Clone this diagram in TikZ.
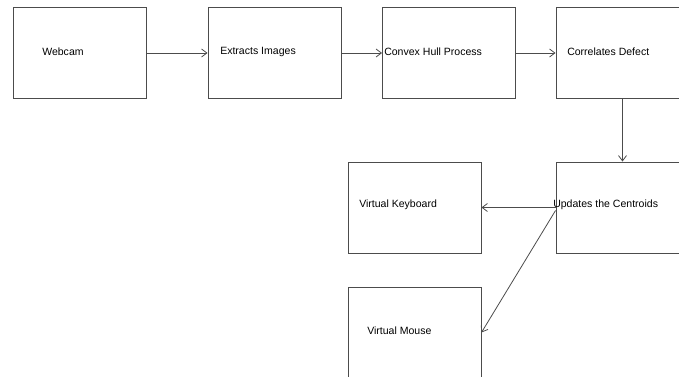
\documentclass[tikz,border=0pt]{standalone}
\usepackage{fontspec}
\setmainfont{Liberation Sans}
\usetikzlibrary{arrows.meta, positioning, calc}

\begin{document}
\begin{tikzpicture}[x=0.75pt, y=-0.75pt,
      >={Straight Barb[length=4pt, width=6pt]},
      stage/.style={draw=black!70, line width=0.7pt, minimum width=99.75pt, minimum height=68.25pt, inner sep=0pt},
      flow/.style={->, draw=black!70, line width=0.6pt},
      stage_text/.style={anchor=west, font=\fontsize{7.9}{9.5}\selectfont, inner sep=0pt}
  ]

  % Page frame
  \clip (0,0) rectangle (679,376);

  % Top row of stages
  \node[stage] (webcam) at (79.5, 53) {};
  \node[stage] (extract) at (274.5, 53) {};
  \node[stage] (hull) at (449, 53) {};
  \node[stage] (defect) at (622.5, 53) {};

  % Lower stages
  \node[stage] (centroids) at (622.5, 207.5) {};
  \node[stage] (keyboard) at (414.5, 207.5) {};
  \node[stage] (mouse) at (414.5, 332.5) {};

  % Texts of the stages
  \node[stage_text] (webcam_text) at (42, 52) {Webcam};
  \node[stage_text] (extract_text) at (220, 52) {Extracts Images};
  \node[stage_text] (hull_text) at (384, 52) {Convex Hull Process};
  \node[stage_text] (defect_text) at (567, 52) {Correlates Defect};
  \node[stage_text] (centroids_text) at (553, 205) {Updates the Centroids};
  \node[stage_text] (keyboard_text) at (359, 205) {Virtual Keyboard};
  \node[stage_text] (mouse_text) at (367, 331) {Virtual Mouse};

  % Connectors
  \draw[flow] (webcam.east) -- (extract.west);
  \draw[flow] (extract.east) -- (hull.west);
  \draw[flow] (hull.east) -- (defect.west);
  \draw[flow] (defect.south) -- (centroids.north);
  \draw[flow] (centroids.west) -- (keyboard.east);
  \draw[flow] ($(centroids.west)+(0,3)$) -- (mouse.east);

\end{tikzpicture}
\end{document}
